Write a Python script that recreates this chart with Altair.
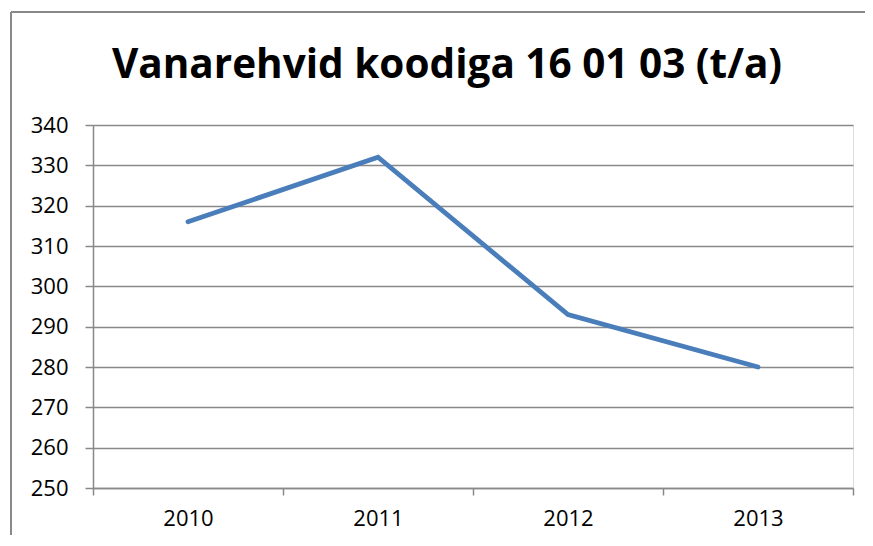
import altair as alt
import pandas as pd

years = ["2010", "2011", "2012", "2013"]
values = [316, 332, 293, 280]
y_ticks = [250, 260, 270, 280, 290, 300, 310, 320, 330, 340]
title_text = "Vanarehvid koodiga 16 01 03 (t/a)"

df = pd.DataFrame({"year": years, "value": values})

FONT = "Open Sans"
GRAY = "#898989"

line = alt.Chart(df).mark_line(color="#4A7EBB", strokeWidth=4.8, strokeCap="round", strokeJoin="miter").encode(
    x=alt.X("year:N", sort=years, title=None,
            scale=alt.Scale(paddingInner=0, paddingOuter=0),
            axis=alt.Axis(labelAngle=0, tickBand="extent", tickSize=7, tickColor=GRAY, tickWidth=1.5,
                          domainColor=GRAY, domainWidth=1.5, labelFont=FONT, labelFontSize=22,
                          labelColor="#000000", labelPadding=13, grid=False)),
    y=alt.Y("value:Q", title=None,
            scale=alt.Scale(domain=[250, 340], nice=False, zero=False),
            axis=alt.Axis(values=y_ticks, tickSize=8, tickColor=GRAY, tickWidth=1.5,
                          domainColor=GRAY, domainWidth=1.5, gridColor=GRAY, gridWidth=1.5,
                          labelFont=FONT, labelFontSize=22, labelColor="#000000", labelPadding=17)),
)

frame_left = alt.Chart(df).mark_rule(color=GRAY, strokeWidth=1.5).encode(
    x=alt.value(-82), y=alt.value(-113), y2=alt.value(420))
frame_top = alt.Chart(df).mark_rule(color=GRAY, strokeWidth=1.5).encode(
    x=alt.value(-82), x2=alt.value(780), y=alt.value(-113))

title = alt.Chart(pd.DataFrame({"t": [title_text]})).mark_text(
    font=FONT, fontSize=40.5, fontWeight="bold", color="#000000", align="center", baseline="alphabetic"
).encode(text="t:N", x=alt.value(354), y=alt.value(-47))

chart = alt.layer(frame_left, frame_top, title, line).properties(
    width=760, height=363,
    padding={"left": 85, "top": 117, "right": 12, "bottom": 47},
    autosize=alt.AutoSizeParams(type="none"),
).configure_view(stroke=None).configure(background="white")

chart.save("out.html", embed_options={"renderer": "svg", "actions": False})
